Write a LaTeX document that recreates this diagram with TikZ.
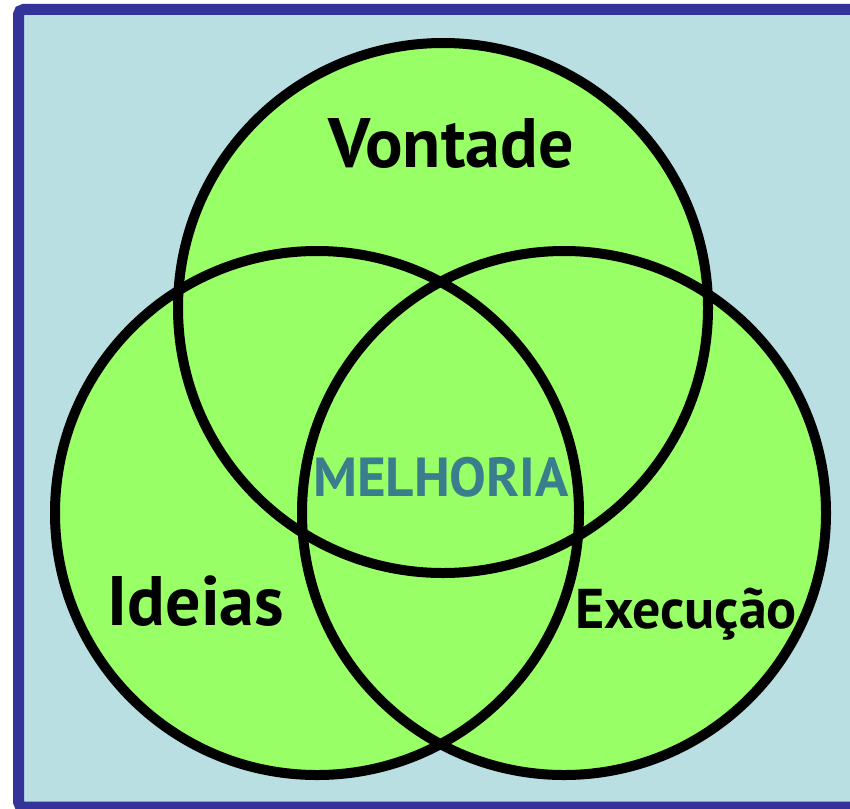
\documentclass[tikz,border=0pt]{standalone}
\usepackage{fontspec}
\setmainfont{PT Sans}
\usepackage{xcolor}
\definecolor{panelblue}{HTML}{B9DFE3}
\definecolor{frameblue}{HTML}{333399}
\definecolor{setgreen}{HTML}{99FF66}
\definecolor{textteal}{HTML}{3A7D8C}
\tikzset{
  setfill/.style={fill=setgreen},
  setline/.style={draw=black, line width=10pt},
  biglabel/.style={anchor=base, font=\fontsize{70}{76}\selectfont\bfseries},
}
\begin{document}
\begin{tikzpicture}[x=1pt, y=-1pt]
        \useasboundingbox (0,0) rectangle (850,808);
        \clip (0,0) rectangle (850,808);

        % Panel
        \draw[frameblue, line width=11pt, fill=panelblue, rounded corners=5pt] (18.5,9.5) rectangle (880,807);

        % Set centres
        \coordinate (cv) at (443,308);
        \coordinate (ci) at (317,513);
        \coordinate (ce) at (564,513);

        % Fills, then outlines
        \fill[setfill] (cv) circle[radius=265];
        \foreach \c in {ci,ce}
            \fill[setfill] (\c) circle[radius=262];
        \draw[setline] (cv) circle[radius=265];
        \foreach \c in {ci,ce}
            \draw[setline] (\c) circle[radius=262];

        % Labels
        \node[biglabel] (vontade) at (451,167) {Vontade};
        \node[biglabel] (ideias) at (196,625) {Ideias};
        \node[anchor=base, font=\fontsize{56}{62}\selectfont\bfseries] (execucao) at (686,628) {Execução};
        \node[anchor=base, text=textteal, font=\fontsize{55}{60}\selectfont\bfseries] (melhoria) at (441,496) {MELHORIA};
    \end{tikzpicture}
\end{document}
